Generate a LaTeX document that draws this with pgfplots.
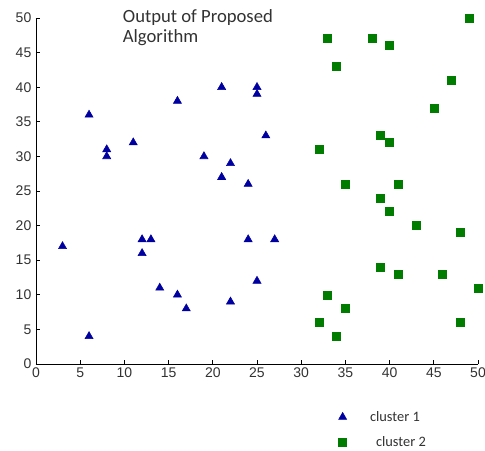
\documentclass[border=0pt]{standalone}
\usepackage{fontspec}
\setmainfont{Liberation Sans}
\newfontfamily\calib{Carlito}
\usepackage{pgfplots}
\pgfplotsset{compat=1.18}
\definecolor{cblue}{RGB}{0,0,160}
\definecolor{cgreen}{RGB}{0,125,0}
\definecolor{tgray}{RGB}{50,50,50}
\begin{document}
\begin{tikzpicture}
\begin{axis}[
  scale only axis,
  width=331.5pt, height=259.5pt,
  xmin=0, xmax=50, ymin=0, ymax=50,
  axis x line=bottom, axis y line=left,
  axis line style={-, black, line width=0.6pt},
  xtick={0,5,...,50}, ytick={0,5,...,50},
  tick align=inside,
  major tick length=3pt,
  tick style={black, line width=0.5pt},
  ticklabel style={font=\fontsize{10.5}{12}\selectfont, text=tgray},
  /pgf/number format/assume math mode=true,
  xticklabel style={yshift=1pt},
  clip=false,
  legend style={draw=none, fill=none, at={(0.675,-0.12)}, anchor=north west,
    font=\calib\fontsize{10.8}{12}\selectfont, text=tgray, row sep=6pt,
    legend cell align=left},
]
\addplot[only marks, mark=triangle*, mark size=3.5pt, color=cblue, mark options={fill=cblue}] coordinates {
(3,17) (6,36) (6,4) (8,31) (8,30) (11,32) (12,18) (13,18) (12,16) (14,11)
(16,38) (16,10) (17,8) (19,30) (21,40) (21,27) (22,29) (22,9) (24,26) (24,18)
(25,40) (25,39) (26,33) (27,18) (25,12)
};
\addlegendentry{\hspace{15.5pt}cluster 1}
\addplot[only marks, mark=square*, mark size=3pt, color=cgreen, mark options={fill=cgreen}] coordinates {
(33,47) (38,47) (40,46) (34,43) (49,50) (47,41) (45,37) (32,31) (39,33) (40,32)
(35,26) (41,26) (39,24) (40,22) (43,20) (48,19) (39,14) (41,13) (46,13) (50,11)
(33,10) (35,8) (32,6) (48,6) (34,4)
};
\addlegendentry{\hspace{20pt}cluster 2}
\node[anchor=north west, align=left, font=\calib\fontsize{14}{14.5}\selectfont, text=tgray, inner sep=0pt]
  at (axis cs:9.8,51.2) {Output of Proposed\\Algorithm};
\end{axis}
\pgfresetboundingbox
\path (current axis.south west) ++(-27pt,-64.5pt) coordinate (bl);
\path (current axis.north east) ++(5.25pt,13.5pt) coordinate (tr);
\path (bl) rectangle (tr);
\end{tikzpicture}
\end{document}
